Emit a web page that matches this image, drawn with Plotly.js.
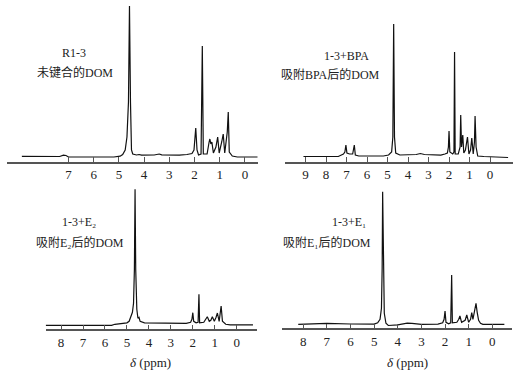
<!DOCTYPE html>
<html>
<head>
<meta charset="utf-8">
<script src="https://cdn.plot.ly/plotly-3.0.1.min.js"></script>
<style>html,body{margin:0;padding:0;background:#fff;}#chart{width:519px;height:372px;}</style>
</head>
<body>
<div id="chart"></div>
<script>
// Panel 1: R1-3 未键合的DOM  (chemical shift ppm, intensity a.u.)
const ppm1 = [8.85,7.35,7.2,7.1,7.0,5.2,4.95,4.85,4.75,4.68,4.62,4.58,4.54,4.5,4.45,4.3,4.2,4.1,3.6,3.4,3.3,2.6,2.3,2.1,2.02,1.95,1.9,1.84,1.74,1.69,1.65,1.5,1.42,1.39,1.35,1.31,1.25,1.15,1.08,1.02,0.92,0.86,0.8,0.7,0.66,0.62,0.5,0.3,-0.5];
const int1 = [5.7,5.5,6.8,6.5,5.0,5.0,5.8,7.5,12,25,60,156,60,12,8,7,7.5,6.8,7.0,8.0,7.2,6.8,7.5,8.5,12,34,12,7,8,116,8,8,20,23,18,20,9,15,25,9,20,28,9,30,50,10,6,5,5];
// Panel 2: 1-3+BPA 吸附BPA后的DOM
const ppm2 = [9.1,7.4,7.25,7.15,7.08,7.03,6.98,6.85,6.7,6.62,6.57,6.4,5.2,4.95,4.8,4.74,4.70,4.66,4.6,4.4,3.6,3.4,3.2,2.4,2.2,2.08,2.03,2.0,1.96,1.9,1.82,1.76,1.73,1.7,1.55,1.46,1.43,1.39,1.33,1.28,1.2,1.1,1.03,0.95,0.89,0.82,0.76,0.73,0.68,0.6,0.3,-0.88];
const int2 = [5.5,5.5,7,8,10,17,9,8,8,17,7,6,6,7,10,25,138,25,9,7,7.5,8.5,7.5,6.8,8,9,15,31,10,9,8,10,110,8,8,15,47,15,27,9,12,25,8,12,24,8,20,46,15,6,5.5,4.5];
// Panel 3: 1-3+E2 吸附E2后的DOM
const ppm3 = [8.7,5.7,5.55,5.2,5.0,4.9,4.8,4.75,4.7,4.66,4.63,4.6,4.55,4.5,4.45,4.4,4.2,3.0,2.3,2.1,2.04,2.0,1.96,1.85,1.76,1.72,1.69,1.5,1.4,1.34,1.25,1.18,1.11,1.02,0.94,0.88,0.8,0.75,0.71,0.65,0.5,0.3,-0.74];
const int3 = [4,4,5,5.5,6.5,8,13,17,26,60,140,60,20,11,12,8,6.5,6,6,7,10,16.6,8,6.5,7,35,6.5,7,10,12.6,8,9,12.6,8,12,16.3,8,15,23.3,8,5,4.5,4.5];
// Panel 4: 1-3+E1 吸附E1后的DOM
const ppm4 = [8.21,7.0,6.0,5.0,4.85,4.75,4.69,4.66,4.64,4.61,4.57,4.5,4.4,4.0,3.6,3.4,3.0,2.3,2.1,2.04,2.0,1.96,1.85,1.76,1.72,1.69,1.5,1.42,1.37,1.3,1.15,1.08,1.0,0.92,0.87,0.82,0.76,0.72,0.69,0.64,0.58,0.5,0.4,-0.51];
const int4 = [4,5,4.3,4.2,5.5,9,20,60,136.6,60,15,5,2.8,3.5,5.2,5,4,4.2,5.5,9,17.3,6,4.5,5.5,53.3,5.5,6,9,12.3,6,8,13.3,6,9,15.6,9,17,24,25,16,8,5,4,4];

const ticks1 = [0,1,2,3,4,5,6,7];
const ticks2 = [0,1,2,3,4,5,6,7,8,9];
const ticks3 = [0,1,2,3,4,5,6,7,8];
const ticks4 = [0,1,2,3,4,5,6,7,8];

const labelTop = ["R1-3", "1-3+BPA", "1-3+E₂", "1-3+E₁"];
const labelBottom = ["未键合的DOM", "吸附BPA后的DOM", "吸附E₂后的DOM", "吸附E₁后的DOM"];
const axisTitle = "<i>δ</i> (ppm)";

const W = 519, H = 372;
const fx = p => p / W;
const fy = p => 1 - p / H;
const serif = "Liberation Serif, 'DejaVu Serif', 'Noto Sans CJK SC', serif";

const line = {color: '#111', width: 1.2};
const traces = [
  {x: ppm1, y: int1, xaxis: 'x', yaxis: 'y', mode: 'lines', line: line, hoverinfo: 'skip'},
  {x: ppm2, y: int2, xaxis: 'x2', yaxis: 'y2', mode: 'lines', line: line, hoverinfo: 'skip'},
  {x: ppm3, y: int3, xaxis: 'x3', yaxis: 'y3', mode: 'lines', line: line, hoverinfo: 'skip'},
  {x: ppm4, y: int4, xaxis: 'x4', yaxis: 'y4', mode: 'lines', line: line, hoverinfo: 'skip'}
];

function xa(domain, range, tv, anchor) {
  return {domain: domain, range: range, anchor: anchor, tickmode: 'array', tickvals: tv,
    ticktext: tv.map(String), ticks: 'inside', ticklen: 5, tickwidth: 1, tickcolor: '#555',
    showline: true, linecolor: '#555', linewidth: 1.5, showgrid: false, zeroline: false,
    tickfont: {family: serif, size: 13, color: '#222'}, fixedrange: true};
}
function ya(domain, range, anchor) {
  return {domain: domain, range: range, anchor: anchor, visible: false, showgrid: false, zeroline: false, fixedrange: true};
}

function ann(text, px, py, size) {
  return {text: text, x: fx(px), y: fy(py), xref: 'paper', yref: 'paper',
    xanchor: 'center', yanchor: 'middle', showarrow: false,
    font: {family: serif, size: size, color: '#222'}};
}

const layout = {
  width: W, height: H,
  margin: {l: 0, r: 0, t: 0, b: 0},
  paper_bgcolor: '#fff', plot_bgcolor: 'rgba(0,0,0,0)',
  showlegend: false,
  xaxis: xa([fx(7), fx(258)], [9.44, -0.52], ticks1, 'y'),
  yaxis: ya([fy(162), fy(0)], [0, 162], 'x'),
  xaxis2: xa([fx(285), fx(513)], [10.0, -1.12], ticks2, 'y2'),
  yaxis2: ya([fy(162), fy(0)], [0, 162], 'x2'),
  xaxis3: xa([fx(45.7), fx(256.7)], [8.70, -0.91], ticks3, 'y3'),
  yaxis3: ya([fy(329.3), fy(180)], [0, 149.3], 'x3'),
  xaxis4: xa([fx(281.7), fx(511.7)], [8.91, -0.82], ticks4, 'y4'),
  yaxis4: ya([fy(328.3), fy(180)], [0, 148.3], 'x4'),
  annotations: [
    ann(labelTop[0], 74, 53, 12),
    ann(labelBottom[0], 74.5, 72, 12),
    ann(labelTop[1], 346, 56, 12),
    ann(labelBottom[1], 330, 74, 12),
    ann(labelTop[2], 79, 222, 12),
    ann(labelBottom[2], 80, 242, 12),
    ann(labelTop[3], 349, 222, 12),
    ann(labelBottom[3], 327, 242, 12),
    ann(axisTitle, 150, 362, 13),
    ann(axisTitle, 407, 362, 13)
  ]
};

Plotly.newPlot('chart', traces, layout, {displayModeBar: false});
</script>
</body>
</html>
